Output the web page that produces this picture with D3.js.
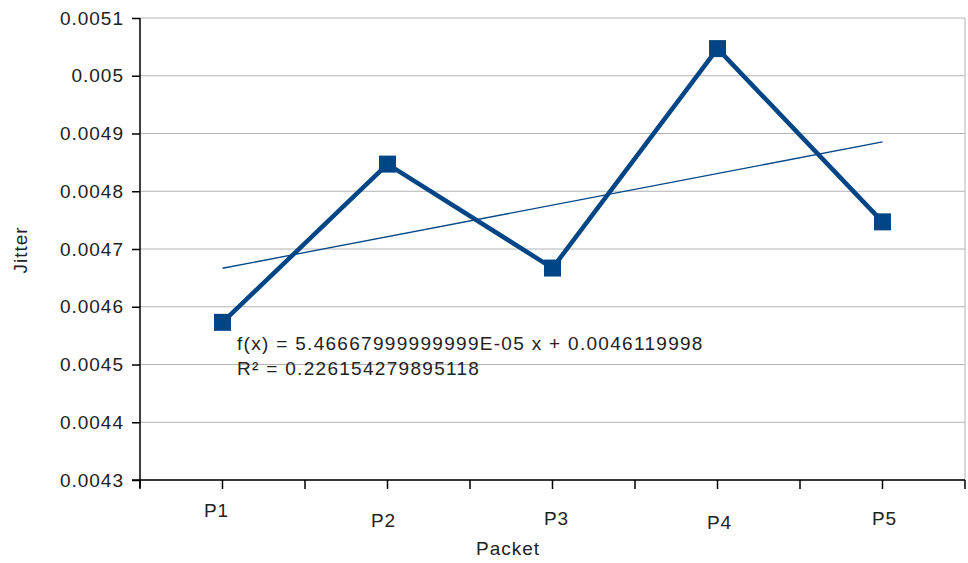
<!DOCTYPE html>
<html>
<head>
<meta charset="utf-8">
<script src="https://cdn.jsdelivr.net/npm/d3@7"></script>
<style>
  body { margin: 0; background: #fff; }
  text { font-family: "Liberation Sans", Arial, sans-serif; fill: #222; letter-spacing: 1px; }
</style>
</head>
<body>
<svg width="968" height="563"></svg>
<script>
const svg = d3.select('svg');

// data
const packets = ['P1', 'P2', 'P3', 'P4', 'P5'];
const jitter = [0.004573, 0.004847, 0.004667, 0.005047, 0.004747];
const yTicks = [0.0043, 0.0044, 0.0045, 0.0046, 0.0047, 0.0048, 0.0049, 0.005, 0.0051];
const trendSlope = 5.46667999999999E-05;
const trendIntercept = 0.0046119998;
const equationLines = ['f(x) = 5.46667999999999E-05 x + 0.0046119998', 'R² = 0.226154279895118'];

const margin = { top: 18, right: 3, bottom: 83, left: 140 };
const width = +svg.attr('width');
const height = +svg.attr('height');
const innerWidth = width - margin.left - margin.right;
const innerHeight = height - margin.top - margin.bottom;
const fontSize = 19;

const g = svg.append('g')
  .attr('transform', `translate(${margin.left},${margin.top})`);

const xScale = d3.scaleBand()
  .domain(packets)
  .range([0, innerWidth]);

const yScale = d3.scaleLinear()
  .domain([0.0043, 0.0051])
  .range([innerHeight, 0]);

const xPos = d => xScale(d) + xScale.bandwidth() / 2;

// grid lines
g.append('g')
  .selectAll('line')
  .data(yTicks)
  .enter()
  .append('line')
  .attr('x1', 0)
  .attr('x2', innerWidth)
  .attr('y1', d => yScale(d))
  .attr('y2', d => yScale(d))
  .attr('stroke', '#b3b3b3')
  .attr('stroke-width', 1);

// right border
g.append('line')
  .attr('x1', innerWidth).attr('x2', innerWidth)
  .attr('y1', 0).attr('y2', innerHeight)
  .attr('stroke', '#b3b3b3');

// y axis
const yAxis = d3.axisLeft(yScale)
  .tickValues(yTicks)
  .tickFormat(d => String(+d.toFixed(4)))
  .tickSize(8)
  .tickPadding(8);

const yAxisG = g.append('g').call(yAxis);
yAxisG.select('.domain').remove();
yAxisG.selectAll('.tick line').attr('stroke', '#000').attr('stroke-width', 1.5);
yAxisG.selectAll('text').attr('font-size', fontSize).attr('fill', '#222');
yAxisG.append('line')
  .attr('x1', 0).attr('x2', 0)
  .attr('y1', 0).attr('y2', innerHeight + 8)
  .attr('stroke', '#000').attr('stroke-width', 1.5);

// x axis: ticks at band edges and centres
const xTickPos = d3.range(packets.length * 2 + 1).map(i => i * xScale.bandwidth() / 2);
const xAxisG = g.append('g').attr('transform', `translate(0,${innerHeight})`);
xAxisG.append('line')
  .attr('x1', -8).attr('x2', innerWidth)
  .attr('stroke', '#000').attr('stroke-width', 1.5);
xAxisG.selectAll('.xtick')
  .data(xTickPos)
  .enter()
  .append('line')
  .attr('class', 'xtick')
  .attr('x1', d => d).attr('x2', d => d)
  .attr('y1', 0).attr('y2', 9)
  .attr('stroke', '#000').attr('stroke-width', 1.5);

// staggered category labels as in the original
const labelShift = [[-6, 37], [-4, 47], [4, 45], [2, 49], [2, 45]];
xAxisG.selectAll('.xlabel')
  .data(packets)
  .enter()
  .append('text')
  .attr('class', 'xlabel')
  .attr('x', (d, i) => xPos(d) + labelShift[i][0])
  .attr('y', (d, i) => labelShift[i][1])
  .attr('text-anchor', 'middle')
  .attr('font-size', fontSize)
  .text(d => d);

// axis titles
svg.append('text')
  .attr('x', 508).attr('y', 555)
  .attr('text-anchor', 'middle')
  .attr('font-size', fontSize)
  .text('Packet');

svg.append('text')
  .attr('transform', 'translate(27,250) rotate(-90)')
  .attr('text-anchor', 'middle')
  .attr('font-size', fontSize)
  .text('Jitter');

// trend line
const trendX = [1, packets.length];
g.append('line')
  .attr('x1', xPos(packets[0]))
  .attr('x2', xPos(packets[packets.length - 1]))
  .attr('y1', yScale(trendSlope * trendX[0] + trendIntercept))
  .attr('y2', yScale(trendSlope * trendX[1] + trendIntercept))
  .attr('stroke', '#004586')
  .attr('stroke-width', 1.3);

// data line
const line = d3.line()
  .x((d, i) => xPos(packets[i]))
  .y(d => yScale(d));

g.append('path')
  .datum(jitter)
  .attr('d', line)
  .attr('fill', 'none')
  .attr('stroke', '#004586')
  .attr('stroke-width', 4.5)
  .attr('stroke-linejoin', 'round');

// square markers
const ms = 17;
g.selectAll('.marker')
  .data(jitter)
  .enter()
  .append('rect')
  .attr('class', 'marker')
  .attr('x', (d, i) => xPos(packets[i]) - ms / 2)
  .attr('y', d => yScale(d) - ms / 2)
  .attr('width', ms)
  .attr('height', ms)
  .attr('fill', '#004586');

// regression equation
svg.append('text')
  .attr('x', 237).attr('y', 350)
  .attr('font-size', fontSize)
  .style('letter-spacing', '1.3px')
  .selectAll('tspan')
  .data(equationLines)
  .enter()
  .append('tspan')
  .attr('x', 237)
  .attr('dy', (d, i) => i === 0 ? 0 : 25)
  .text(d => d);
</script>
</body>
</html>
